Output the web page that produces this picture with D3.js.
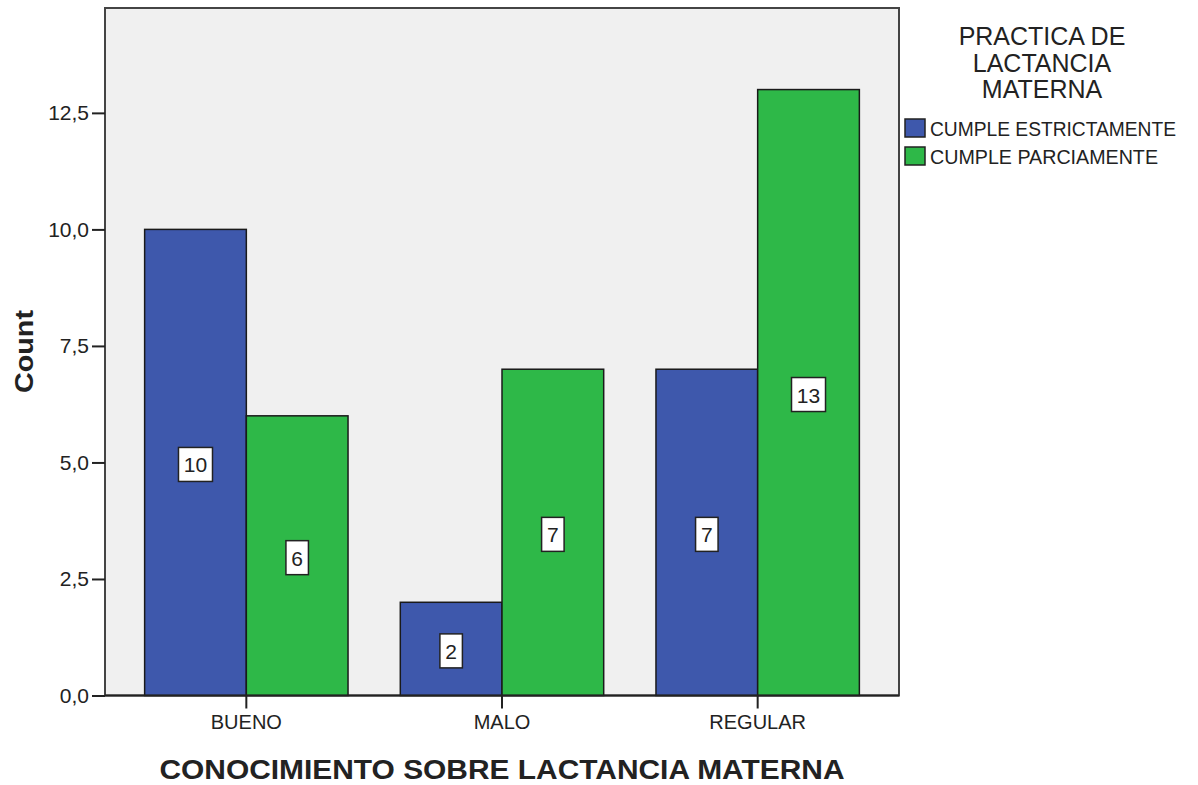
<!DOCTYPE html>
<html><head><meta charset="utf-8">
<script src="https://cdn.jsdelivr.net/npm/d3@7"></script>
<style>body{margin:0;background:#fff;} text{font-family:Arial,"Liberation Sans",sans-serif;fill:#222;}</style>
</head><body>
<svg id="c" width="1198" height="785"></svg>
<script>
const categories = ["BUENO", "MALO", "REGULAR"];
const seriesNames = ["CUMPLE ESTRICTAMENTE", "CUMPLE PARCIAMENTE"];
const estrictamente = [10, 2, 7];
const parciamente = [6, 7, 13];
const yTicks = [0, 2.5, 5, 7.5, 10, 12.5];
const legendTitle = ["PRACTICA DE", "LACTANCIA", "MATERNA"];
const xTitle = "CONOCIMIENTO SOBRE LACTANCIA MATERNA";
const yTitle = "Count";
const colors = ["#3E58AC", "#2EB848"];

const svg = d3.select("#c");
const L = 105, R = 899, T = 8, B = 695.5;
const y = d3.scaleLinear().domain([0, 14.75]).range([B, T]);
const x0 = d3.scaleBand().domain(categories).range([L + 13.5, R - 13.5]).paddingInner(0);
const x1 = d3.scaleBand().domain(seriesNames).range([0, x0.bandwidth()]).paddingInner(0).paddingOuter(0.257);

svg.append("rect").attr("x", L).attr("y", T).attr("width", R - L).attr("height", B - T)
  .attr("fill", "#F0F0F0").attr("stroke", "#444").attr("stroke-width", 2);

const data = categories.map((c, i) => ({cat: c, vals: [estrictamente[i], parciamente[i]]}));
const g = svg.append("g");
data.forEach(d => {
  d.vals.forEach((v, j) => {
    const bx = x0(d.cat) + x1(seriesNames[j]);
    g.append("rect").attr("x", bx).attr("y", y(v)).attr("width", x1.bandwidth()).attr("height", y(0) - y(v))
      .attr("fill", colors[j]).attr("stroke", "#1a1a1a").attr("stroke-width", 1.5);
  });
});
data.forEach(d => {
  d.vals.forEach((v, j) => {
    const cx = x0(d.cat) + x1(seriesNames[j]) + x1.bandwidth() / 2;
    const cy = y(v / 2);
    const t = String(v);
    const w = t.length * 11.5 + 11;
    g.append("rect").attr("x", cx - w / 2).attr("y", cy - 15).attr("width", w).attr("height", 34)
      .attr("fill", "#fff").attr("stroke", "#222").attr("stroke-width", 1.5);
    g.append("text").attr("x", cx).attr("y", cy + 10).attr("text-anchor", "middle")
      .attr("font-size", 21).text(t);
  });
});

// y axis
const yAxis = d3.axisLeft(y).tickValues(yTicks).tickSize(13).tickPadding(3)
  .tickFormat(d => d3.format(".1f")(d).replace(".", ","));
const ya = svg.append("g").attr("transform", `translate(${L},0)`).call(yAxis);
ya.select(".domain").remove();
ya.selectAll("line").attr("stroke", "#222").attr("stroke-width", 2);
ya.selectAll("text").attr("font-size", 21).attr("fill", "#222");

// x axis
const xAxis = d3.axisBottom(x0).tickSize(13).tickPadding(6);
const xa = svg.append("g").attr("transform", `translate(0,${B})`).call(xAxis);
xa.select(".domain").attr("d", `M${L},0H${R}`).attr("stroke", "#222").attr("stroke-width", 2);
xa.selectAll("line").attr("stroke", "#222").attr("stroke-width", 2);
xa.selectAll("text").attr("font-size", 20).attr("fill", "#222");

svg.append("text").attr("x", 502).attr("y", 779).attr("text-anchor", "middle")
  .attr("font-size", 27).attr("font-weight", "bold")
  .attr("textLength", 685).attr("lengthAdjust", "spacingAndGlyphs").text(xTitle);
svg.append("text").attr("transform", "translate(33,351.5) rotate(-90)").attr("text-anchor", "middle")
  .attr("font-size", 26).attr("font-weight", "bold")
  .attr("textLength", 83).attr("lengthAdjust", "spacingAndGlyphs").text(yTitle);

// legend
const lg = svg.append("g");
legendTitle.forEach((s, i) => {
  lg.append("text").attr("x", 1042).attr("y", 45 + i * 26.5).attr("text-anchor", "middle")
    .attr("font-size", 25).text(s);
});
seriesNames.forEach((s, i) => {
  lg.append("rect").attr("x", 905).attr("y", 119 + i * 28).attr("width", 20).attr("height", 18)
    .attr("fill", colors[i]).attr("stroke", "#222").attr("stroke-width", 1.5);
  lg.append("text").attr("x", 930).attr("y", 136 + i * 28).attr("font-size", 20)
    .attr("textLength", i === 0 ? 246 : 228).attr("lengthAdjust", "spacingAndGlyphs").text(s);
});
</script>
</body></html>
